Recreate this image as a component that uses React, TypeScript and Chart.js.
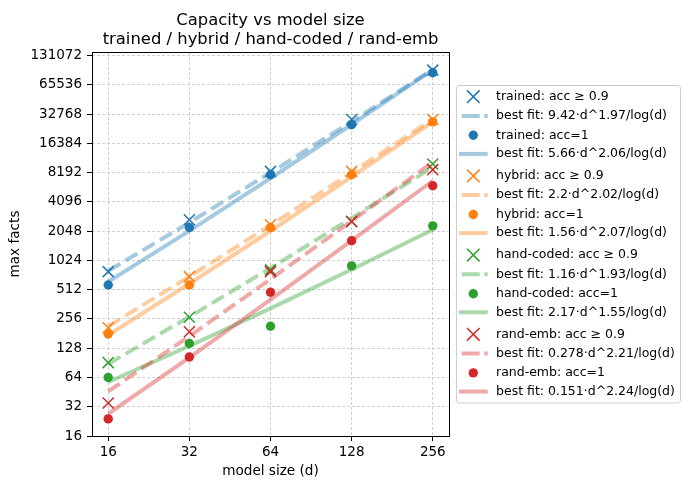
import React, { useEffect, useRef } from "react";
import { Chart, registerables } from "chart.js";

Chart.register(...registerables);

const FONT = '"DejaVu Sans", "Liberation Sans", sans-serif';

// ---- data ----
const modelSizes = [16, 32, 64, 128, 256];
const yTickValues = [16, 32, 64, 128, 256, 512, 1024, 2048, 4096, 8192, 16384, 32768, 65536, 131072];

const seriesNames = ["trained", "hybrid", "hand-coded", "rand-emb"];
const seriesColors = ["#1f77b4", "#ff7f0e", "#2ca02c", "#d62728"];

// measured points (max facts)
const trainedAcc90 = [785, 2680, 8430, 28800, 92700];
const trainedAcc100 = [572, 2230, 7790, 25500, 87100];
const hybridAcc90 = [208, 697, 2380, 8430, 28800];
const hybridAcc100 = [179, 572, 2230, 7790, 27200];
const handAcc90 = [91, 266, 818, 2570, 10050];
const handAcc100 = [64, 143, 215, 899, 2320];
const randAcc90 = [35, 189, 785, 2570, 8780];
const randAcc100 = [24, 104, 481, 1630, 6000];

// best-fit curves evaluated at the model sizes
const trainedFit90 = [800, 2508, 8189, 27500, 94260];
const trainedFit100 = [617, 2059, 7155, 25571, 93298];
const hybridFit90 = [215, 697, 2355, 8186, 29050];
const hybridFit100 = [175, 588, 2056, 7398, 27181];
const handFit90 = [88.2, 269, 854, 2789, 9299];
const handFit100 = [57.5, 134.8, 328.9, 825.5, 2115];
const randFit90 = [46.0, 170, 656, 2600, 10527];
const randFit100 = [27.1, 102.5, 403.5, 1634, 6753];

const fitLabels90 = ["9.42·d^1.97/log(d)", "2.2·d^2.02/log(d)", "1.16·d^1.93/log(d)", "0.278·d^2.21/log(d)"];
const fitLabels100 = ["5.66·d^2.06/log(d)", "1.56·d^2.07/log(d)", "2.17·d^1.55/log(d)", "0.151·d^2.24/log(d)"];

const acc90 = [trainedAcc90, hybridAcc90, handAcc90, randAcc90];
const acc100 = [trainedAcc100, hybridAcc100, handAcc100, randAcc100];
const fit90 = [trainedFit90, hybridFit90, handFit90, randFit90];
const fit100 = [trainedFit100, hybridFit100, handFit100, randFit100];

function withAlpha(hex: string, a: number) {
  const r = parseInt(hex.slice(1, 3), 16);
  const g = parseInt(hex.slice(3, 5), 16);
  const b = parseInt(hex.slice(5, 7), 16);
  return `rgba(${r},${g},${b},${a})`;
}

const DASH = [14, 6];
const FIT_W = 4;
const FIT_ALPHA = 0.4;
const CROSS_R = 7.8;
const DOT_R = 4.7;

type LegendItem = { kind: "cross" | "dash" | "dot" | "solid"; color: string; text: string };

export default function App() {
  const ref = useRef<HTMLCanvasElement>(null);

  useEffect(() => {
    if (!ref.current) return;
    const datasets: any[] = [];
    const legendItems: LegendItem[] = [];
    let idx = 0;
    seriesNames.forEach((name, i) => {
      const c = seriesColors[i];
      const toPts = (arr: number[]) => modelSizes.map((x, j) => ({ x, y: arr[j] }));
      datasets.push({
        label: `${name}: acc ≥ 0.9`,
        data: toPts(acc90[i]),
        showLine: false,
        pointStyle: "crossRot",
        pointRadius: CROSS_R,
        pointBorderWidth: 1.5,
        pointBorderColor: c,
        pointBackgroundColor: c,
        borderColor: c,
        order: 100 - idx++,
      });
      legendItems.push({ kind: "cross", color: c, text: `${name}: acc ≥ 0.9` });
      datasets.push({
        label: `best fit: ${fitLabels90[i]}`,
        data: toPts(fit90[i]),
        borderColor: withAlpha(c, FIT_ALPHA),
        borderWidth: FIT_W,
        borderDash: DASH,
        borderJoinStyle: "round",
        pointRadius: 0,
        tension: 0,
        order: 100 - idx++,
      });
      legendItems.push({ kind: "dash", color: c, text: `best fit: ${fitLabels90[i]}` });
      datasets.push({
        label: `${name}: acc=1`,
        data: toPts(acc100[i]),
        showLine: false,
        pointStyle: "circle",
        pointRadius: DOT_R,
        pointBorderWidth: 0,
        pointBackgroundColor: c,
        pointBorderColor: c,
        borderColor: c,
        order: 100 - idx++,
      });
      legendItems.push({ kind: "dot", color: c, text: `${name}: acc=1` });
      datasets.push({
        label: `best fit: ${fitLabels100[i]}`,
        data: toPts(fit100[i]),
        borderColor: withAlpha(c, FIT_ALPHA),
        borderWidth: FIT_W,
        borderJoinStyle: "round",
        pointRadius: 0,
        tension: 0,
        order: 100 - idx++,
      });
      legendItems.push({ kind: "solid", color: c, text: `best fit: ${fitLabels100[i]}` });
    });

    const decorations = {
      id: "decorations",
      afterDraw(chart: any) {
        const { ctx, chartArea: a } = chart;
        ctx.save();
        // axes frame
        ctx.strokeStyle = "#000";
        ctx.lineWidth = 1;
        ctx.setLineDash([]);
        const L = Math.floor(a.left) + 0.5, R = Math.floor(a.right) + 0.5;
        const T = Math.floor(a.top) + 0.5, B = Math.floor(a.bottom) + 0.5;
        ctx.strokeRect(L, T, R - L, B - T);

        // title
        const cx = (a.left + a.right) / 2;
        ctx.fillStyle = "#000";
        ctx.font = `16.4px ${FONT}`;
        ctx.textAlign = "center";
        ctx.textBaseline = "alphabetic";
        ctx.fillText("Capacity vs model size", cx, 24.7);
        ctx.fillText("trained / hybrid / hand-coded / rand-emb", cx, 44.2);

        // legend
        const fx = 456.5, fy = 85.5, fw = 224, fh = 317.5, rr = 3;
        ctx.beginPath();
        ctx.moveTo(fx + rr, fy);
        ctx.lineTo(fx + fw - rr, fy);
        ctx.arcTo(fx + fw, fy, fx + fw, fy + rr, rr);
        ctx.lineTo(fx + fw, fy + fh - rr);
        ctx.arcTo(fx + fw, fy + fh, fx + fw - rr, fy + fh, rr);
        ctx.lineTo(fx + rr, fy + fh);
        ctx.arcTo(fx, fy + fh, fx, fy + fh - rr, rr);
        ctx.lineTo(fx, fy + rr);
        ctx.arcTo(fx, fy, fx + rr, fy, rr);
        ctx.closePath();
        ctx.fillStyle = "rgba(255,255,255,0.8)";
        ctx.fill();
        ctx.strokeStyle = "#cccccc";
        ctx.lineWidth = 1;
        ctx.stroke();

        const withinGroup = [0, 19.2, 38.6, 57.2];
        const groupStep = 79.2;
        const y0 = 96.7;
        const hx0 = 459, hx1 = 487.7, mx = 473.3, tx = 496;
        ctx.font = `12.5px ${FONT}`;
        ctx.textAlign = "left";
        ctx.textBaseline = "middle";
        legendItems.forEach((it, k) => {
          const g = Math.floor(k / 4), w = k % 4;
          const y = y0 + g * groupStep + withinGroup[w];
          if (it.kind === "cross") {
            const s = 6.3;
            ctx.strokeStyle = it.color;
            ctx.lineWidth = 1.5;
            ctx.setLineDash([]);
            ctx.beginPath();
            ctx.moveTo(mx - s, y - s);
            ctx.lineTo(mx + s, y + s);
            ctx.moveTo(mx + s, y - s);
            ctx.lineTo(mx - s, y + s);
            ctx.stroke();
          } else if (it.kind === "dot") {
            ctx.fillStyle = it.color;
            ctx.beginPath();
            ctx.arc(mx, y, DOT_R, 0, Math.PI * 2);
            ctx.fill();
          } else {
            ctx.strokeStyle = withAlpha(it.color, FIT_ALPHA);
            ctx.lineWidth = FIT_W;
            ctx.lineCap = "butt";
            ctx.setLineDash(it.kind === "dash" ? [18, 4.5] : []);
            ctx.lineDashOffset = it.kind === "dash" ? -2.7 : 0;
            ctx.beginPath();
            ctx.moveTo(hx0, y);
            ctx.lineTo(hx1, y);
            ctx.stroke();
            ctx.setLineDash([]);
            ctx.lineDashOffset = 0;
          }
          ctx.fillStyle = "#000";
          ctx.fillText(it.text, tx, y);
        });
        ctx.restore();
      },
    };

    const tickFont = { family: FONT, size: 13.5 };
    const labelFont = { family: FONT, size: 13.6 };

    const chart = new Chart(ref.current, {
      type: "line",
      data: { datasets },
      options: {
        animation: false,
        responsive: false,
        devicePixelRatio: 1,
        events: [],
        layout: { padding: { top: 52, right: 241, left: 0, bottom: 0 } },
        plugins: { legend: { display: false }, title: { display: false }, tooltip: { enabled: false } },
        scales: {
          x: {
            type: "logarithmic",
            position: "bottom",
            min: Math.pow(2, 3.8),
            max: Math.pow(2, 8.2),
            afterBuildTicks: (s: any) => {
              s.ticks = modelSizes.map((v) => ({ value: v }));
            },
            afterFit: (s: any) => {
              s.height = 53;
            },
            ticks: {
              autoSkip: false,
              maxRotation: 0,
              minRotation: 0,
              padding: 3.2,
              color: "#000",
              font: tickFont,
              callback: (v: any) => String(v),
            },
            grid: { color: "#c4c4c4", lineWidth: 0.8, tickColor: "#000", tickLength: 5, tickWidth: 1, tickBorderDash: [] },
            border: { display: false, dash: [3, 2] },
            title: { display: true, text: "model size (d)", color: "#000", font: labelFont, padding: { top: 0, bottom: 9 } },
          },
          y: {
            type: "logarithmic",
            position: "left",
            min: 16,
            max: Math.pow(2, 17.12),
            afterBuildTicks: (s: any) => {
              s.ticks = yTickValues.map((v) => ({ value: v }));
            },
            afterFit: (s: any) => {
              s.width = 92;
            },
            ticks: {
              autoSkip: false,
              padding: 5,
              color: "#000",
              font: tickFont,
              callback: (v: any) => String(v),
            },
            grid: { color: "#c4c4c4", lineWidth: 0.8, tickColor: "#000", tickLength: 5, tickWidth: 1, tickBorderDash: [] },
            border: { display: false, dash: [3, 2] },
            title: { display: true, text: "max facts", color: "#000", font: labelFont, padding: { top: 7.8, bottom: 0 } },
          },
        },
      },
      plugins: [decorations],
    } as any);
    return () => chart.destroy();
  }, []);

  return (
    <div style={{ position: "fixed", left: 0, top: 0, width: 690, height: 489, background: "#fff" }}>
      <canvas ref={ref} width={690} height={489} style={{ display: "block", width: 690, height: 489 }} />
    </div>
  );
}
